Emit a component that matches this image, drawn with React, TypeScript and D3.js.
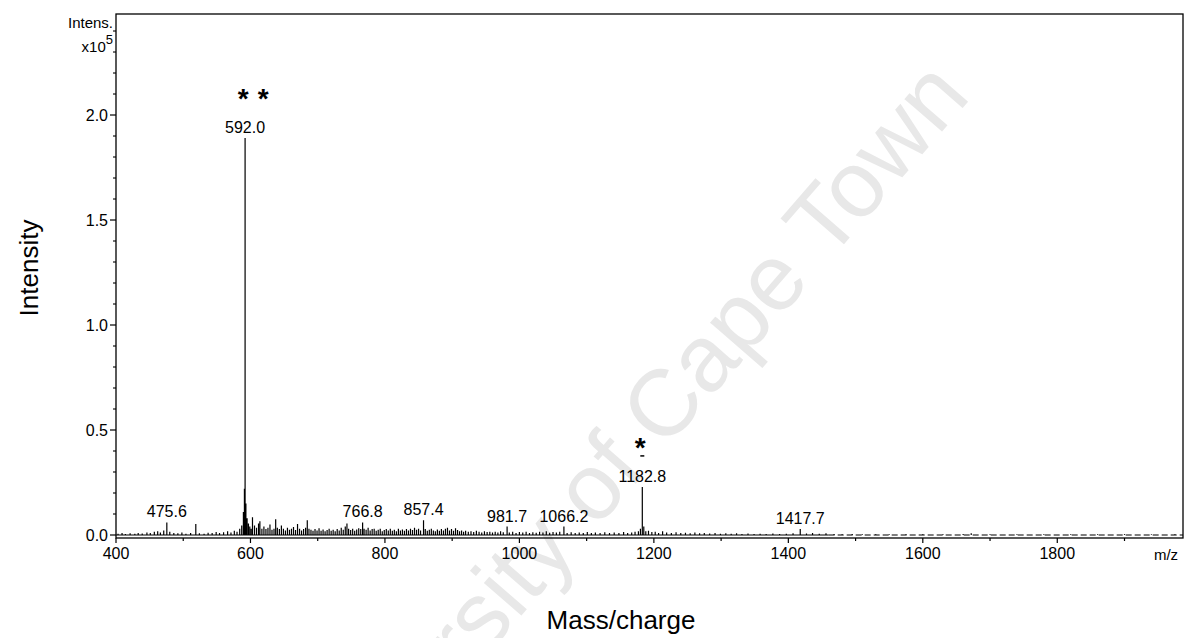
import React from "react";
import * as d3 from "d3";

// Mass spectrum (ESI-MS), m/z vs intensity (x10^5)
const peakMz = [
  403, 409, 414, 421, 428, 433, 439, 446, 451, 457, 462, 466, 471, 475.6, 480, 486, 492, 498,
  504, 511, 518.7, 524, 531, 537, 543, 549, 554, 560, 566, 571, 576, 580, 584, 587, 589.5, 591,
  592.0, 593.2, 595, 597, 599, 601, 603, 606, 609, 612, 614, 617, 620, 623, 626, 629, 632, 635,
  637.5, 640, 643, 646, 649, 652, 655, 658, 661, 664, 667, 670, 673, 676, 679, 682, 684.5, 687,
  690, 693, 696, 699, 702, 705, 708, 711, 714, 717, 720, 723, 726, 729, 732, 735, 738, 741,
  743.5, 746, 749, 752, 755, 758, 761, 764, 766.8, 769, 772, 775, 778, 781, 784, 787, 790, 793,
  796, 799, 802, 805, 808, 811, 814, 817, 820, 823, 826, 829, 832, 835, 838, 841, 844, 847, 850,
  853, 857.4, 860, 863, 866, 869, 872, 875, 878, 881, 884, 887, 890, 893, 896, 899, 902, 905,
  908, 911, 914, 917, 920, 924, 928, 932, 936, 940, 944, 948, 952, 956, 960, 964, 968, 972, 976,
  981.7, 985, 990, 995, 1000, 1005, 1010, 1015, 1020, 1025, 1030, 1035, 1040, 1045, 1050, 1055,
  1060, 1066.2, 1071, 1077, 1083, 1089, 1095, 1101, 1107, 1113, 1120, 1127, 1134, 1141, 1148,
  1155, 1161, 1167, 1172, 1177, 1180, 1182.8, 1185, 1188, 1192, 1197, 1202, 1207, 1213, 1219,
  1226, 1233, 1240, 1247, 1254, 1261, 1268, 1275, 1283, 1291, 1299, 1307, 1315, 1323, 1331,
  1340, 1349, 1358, 1367, 1377, 1387, 1397, 1407, 1417.7, 1427, 1436, 1446, 1456, 1468, 1480,
  1495, 1510, 1530, 1550, 1575, 1600, 1630, 1660, 1672, 1700, 1740, 1780, 1820, 1860, 1900,
  1940, 1975,
];
const peakIntensity = [
  0.006, 0.010, 0.005, 0.008, 0.006, 0.010, 0.007, 0.012, 0.009, 0.015, 0.018, 0.012, 0.022, 0.060, 0.016, 0.010, 0.008, 0.012,
  0.006, 0.009, 0.052, 0.008, 0.006, 0.011, 0.009, 0.014, 0.010, 0.013, 0.018, 0.012, 0.020, 0.016, 0.030, 0.045, 0.110, 0.220,
  1.890, 0.150, 0.080, 0.055, 0.040, 0.030, 0.085, 0.045, 0.035, 0.055, 0.065, 0.030, 0.040, 0.028, 0.035, 0.050, 0.025, 0.030,
  0.075, 0.035, 0.028, 0.045, 0.030, 0.022, 0.035, 0.025, 0.030, 0.038, 0.024, 0.052, 0.030, 0.022, 0.028, 0.035, 0.070, 0.030,
  0.025, 0.020, 0.028, 0.022, 0.032, 0.020, 0.026, 0.018, 0.024, 0.030, 0.020, 0.025, 0.018, 0.028, 0.022, 0.035, 0.025, 0.040,
  0.055, 0.030, 0.024, 0.030, 0.020, 0.026, 0.032, 0.028, 0.060, 0.030, 0.025, 0.035, 0.022, 0.028, 0.030, 0.020, 0.025, 0.030,
  0.018, 0.024, 0.028, 0.022, 0.030, 0.020, 0.025, 0.018, 0.030, 0.022, 0.026, 0.020, 0.028, 0.022, 0.030, 0.024, 0.035, 0.025, 0.030,
  0.022, 0.070, 0.028, 0.020, 0.025, 0.030, 0.022, 0.018, 0.026, 0.020, 0.028, 0.022, 0.030, 0.035, 0.022, 0.028, 0.020, 0.032,
  0.024, 0.018, 0.022, 0.016, 0.020, 0.015, 0.018, 0.014, 0.020, 0.016, 0.012, 0.018, 0.014, 0.016, 0.012, 0.015, 0.012, 0.018, 0.013,
  0.040, 0.012, 0.015, 0.010, 0.014, 0.012, 0.016, 0.010, 0.013, 0.011, 0.015, 0.012, 0.018, 0.011, 0.014, 0.012,
  0.015, 0.040, 0.010, 0.013, 0.010, 0.012, 0.009, 0.014, 0.010, 0.012, 0.009, 0.013, 0.010, 0.012, 0.009,
  0.014, 0.010, 0.012, 0.015, 0.018, 0.030, 0.229, 0.040, 0.018, 0.020, 0.014, 0.016, 0.010, 0.018, 0.012,
  0.010, 0.013, 0.009, 0.011, 0.008, 0.012, 0.008, 0.010, 0.007, 0.009, 0.006, 0.008, 0.006, 0.008, 0.005,
  0.007, 0.005, 0.006, 0.005, 0.007, 0.005, 0.006, 0.008, 0.028, 0.007, 0.010, 0.006, 0.008, 0.005, 0.004,
  0.005, 0.003, 0.004, 0.003, 0.004, 0.003, 0.004, 0.005, 0.008, 0.003, 0.004, 0.003, 0.004, 0.003, 0.004,
  0.003, 0.004,
];

const labeledMz = [475.6, 592.0, 766.8, 857.4, 981.7, 1066.2, 1182.8, 1417.7];
const doubleStarMz = [592.0];
const singleStarMz = [1182.8];

const xMajorTicks = [400, 600, 800, 1000, 1200, 1400, 1600, 1800];
const xMinorTicks = [500, 700, 900, 1100, 1300, 1500, 1700, 1900];
const yMajorTicks = [0, 0.5, 1.0, 1.5, 2.0];
const yMinorTicks = [0.1, 0.2, 0.3, 0.4, 0.6, 0.7, 0.8, 0.9, 1.1, 1.2, 1.3, 1.4, 1.6, 1.7, 1.8, 1.9, 2.1, 2.2, 2.3, 2.4];

const dashedFromMz = 1460;
const FONT = "'Liberation Sans', Arial, Helvetica, sans-serif";

export default function App() {
  const width = 1192;
  const height = 638;
  const plot = { left: 116, right: 1183, top: 14, bottom: 538 };

  const x = d3.scaleLinear().domain([400, 1987]).range([plot.left, plot.right]);
  const y = d3.scaleLinear().domain([-0.0143, 2.481]).range([plot.bottom, plot.top]);

  const peaks = peakMz.map((mz, i) => ({ mz, v: peakIntensity[i] }));
  const solidPeaks = peaks.filter((p) => p.mz < dashedFromMz);
  const tailPeaks = peaks.filter((p) => p.mz >= dashedFromMz);

  // stick trace: baseline -> apex -> baseline for each peak
  const tracePts: [number, number][] = [[400, 0]];
  solidPeaks.forEach((p) => {
    tracePts.push([p.mz, 0], [p.mz, p.v], [p.mz, 0]);
  });
  tracePts.push([dashedFromMz, 0]);
  const line = d3
    .line<[number, number]>()
    .x((d) => x(d[0]))
    .y((d) => y(d[1]));

  const fmt = d3.format(".1f");
  const peakValue = (mz: number) => peaks.find((p) => p.mz === mz)!.v;

  const labelGap = 5;
  const starRise = 40;

  return (
    <svg
      width={width}
      height={height}
      style={{ position: "absolute", left: 0, top: 0, background: "#fff" }}
      fontFamily={FONT}
    >
      <rect x={0} y={0} width={width} height={height} fill="#fff" />

      {/* watermark */}
      <text
        transform="translate(972,97) rotate(-49)"
        textAnchor="end"
        fontSize={94}
        fill="#e8e8e8"
        fontFamily={FONT}
      >
        University of Cape Town
      </text>

      {/* frame */}
      <rect
        x={plot.left}
        y={plot.top}
        width={plot.right - plot.left}
        height={plot.bottom - plot.top}
        fill="none"
        stroke="#000"
        strokeWidth={1.3}
      />

      {/* spectrum */}
      <path d={line(tracePts) || ""} fill="none" stroke="#000" strokeWidth={1.2} />
      <line
        x1={x(dashedFromMz)}
        x2={x(1987)}
        y1={y(0)}
        y2={y(0)}
        stroke="#000"
        strokeWidth={1.2}
        strokeDasharray="6 3"
      />
      {tailPeaks.map((p, i) => (
        <line key={"t" + i} x1={x(p.mz)} x2={x(p.mz)} y1={y(0)} y2={y(p.v)} stroke="#000" strokeWidth={1.2} />
      ))}

      {/* peak labels */}
      {labeledMz.map((mz) => (
        <text
          key={"l" + mz}
          x={x(mz)}
          y={y(peakValue(mz)) - labelGap}
          textAnchor="middle"
          fontSize={16}
          fill="#000"
        >
          {fmt(mz)}
        </text>
      ))}
      {doubleStarMz.map((mz) => {
        const base = y(peakValue(mz)) - labelGap - starRise + 15;
        return (
          <g key={"ds" + mz} fontSize={28} fontWeight="bold" textAnchor="middle">
            <text x={x(mz) - 2} y={base}>*</text>
            <text x={x(mz) + 18} y={base}>*</text>
          </g>
        );
      })}
      {singleStarMz.map((mz) => {
        const base = y(peakValue(mz)) - labelGap - starRise + 15;
        return (
          <g key={"ss" + mz}>
            <text x={x(mz) - 2} y={base} fontSize={28} fontWeight="bold" textAnchor="middle">
              *
            </text>
            <line
              x1={x(mz) - 2}
              x2={x(mz) + 2}
              y1={y(peakValue(mz)) - labelGap - 26}
              y2={y(peakValue(mz)) - labelGap - 26}
              stroke="#000"
              strokeWidth={1.5}
            />
          </g>
        );
      })}

      {/* x axis */}
      {xMajorTicks.map((t) => (
        <g key={"xm" + t}>
          <line x1={x(t)} x2={x(t)} y1={plot.bottom} y2={plot.bottom + 5} stroke="#000" strokeWidth={1.2} />
          <text x={x(t)} y={plot.bottom + 21} textAnchor="middle" fontSize={16}>
            {t}
          </text>
        </g>
      ))}
      {xMinorTicks.map((t) => (
        <line key={"xn" + t} x1={x(t)} x2={x(t)} y1={plot.bottom} y2={plot.bottom + 3} stroke="#000" strokeWidth={1.2} />
      ))}
      <text x={1166} y={plot.bottom + 22} textAnchor="middle" fontSize={15}>
        m/z
      </text>

      {/* y axis */}
      {yMajorTicks.map((t) => (
        <g key={"ym" + t}>
          <line x1={plot.left - 6} x2={plot.left} y1={y(t)} y2={y(t)} stroke="#000" strokeWidth={1.2} />
          <text x={plot.left - 8} y={y(t)} dy="0.36em" textAnchor="end" fontSize={16}>
            {fmt(t)}
          </text>
        </g>
      ))}
      {yMinorTicks.map((t) => (
        <line key={"yn" + t} x1={plot.left - 3} x2={plot.left} y1={y(t)} y2={y(t)} stroke="#000" strokeWidth={1.1} />
      ))}
      <text x={113} y={28} textAnchor="end" fontSize={15}>
        Intens.
      </text>
      <text x={113} y={52} textAnchor="end" fontSize={15}>
        x10<tspan dy={-8} fontSize={13}>5</tspan>
      </text>

      {/* axis titles */}
      <text
        transform="translate(38,268) rotate(-90)"
        textAnchor="middle"
        fontSize={26}
      >
        Intensity
      </text>
      <text x={621} y={629} textAnchor="middle" fontSize={26}>
        Mass/charge
      </text>
    </svg>
  );
}
